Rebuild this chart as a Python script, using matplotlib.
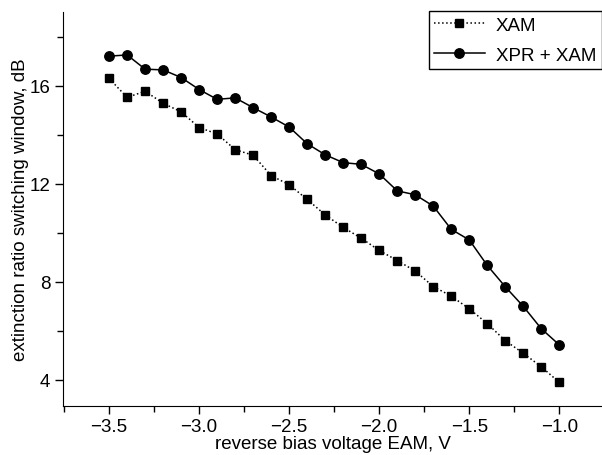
import numpy as np
import matplotlib.pyplot as plt
from matplotlib.ticker import MultipleLocator

plt.rcParams['font.family'] = ['Liberation Sans', 'DejaVu Sans']

# reverse bias voltage, V
voltage = [-3.5, -3.4, -3.3, -3.2, -3.1, -3.0, -2.9, -2.8, -2.7, -2.6, -2.5, -2.4, -2.3,
           -2.2, -2.1, -2.0, -1.9, -1.8, -1.7, -1.6, -1.5, -1.4, -1.3, -1.2, -1.1, -1.0]

xam = [16.29, 15.52, 15.77, 15.28, 14.93, 14.29, 14.03, 13.39, 13.16, 12.33, 11.96, 11.36, 10.73,
       10.22, 9.78, 9.28, 8.87, 8.44, 7.81, 7.42, 6.90, 6.30, 5.60, 5.09, 4.54, 3.90]

xpr_xam = [17.20, 17.25, 16.67, 16.64, 16.33, 15.84, 15.44, 15.50, 15.10, 14.72, 14.31, 13.63, 13.18,
           12.86, 12.79, 12.40, 11.71, 11.55, 11.09, 10.14, 9.71, 8.67, 7.80, 7.00, 6.09, 5.43]

fs = 13.5

fig = plt.figure(figsize=(6.02, 4.56), dpi=100)
ax = fig.add_axes([63 / 602, 49 / 456, 539 / 602, 394 / 456])

ax.plot(voltage, xam, color='black', linestyle=':', linewidth=1.1,
        marker='s', markersize=6, label='XAM')
ax.plot(voltage, xpr_xam, color='black', linestyle='-', linewidth=1.1,
        marker='o', markersize=6.8, label='XPR + XAM')

ax.set_xlim(-3.756, -0.763)
ax.set_ylim(2.94, 19.0)
ax.xaxis.set_major_locator(MultipleLocator(0.5))
ax.xaxis.set_minor_locator(MultipleLocator(0.25))
ax.yaxis.set_major_locator(MultipleLocator(4))
ax.yaxis.set_minor_locator(MultipleLocator(2))
ax.xaxis.set_major_formatter(plt.FuncFormatter(lambda v, p: '\u2212%.1f' % abs(v)))

for s in ['top', 'right']:
    ax.spines[s].set_visible(False)
ax.tick_params(which='major', direction='out', length=6, width=1, labelsize=fs, color='black', pad=3)
ax.tick_params(which='minor', direction='out', length=4, width=1)

ax.set_xlabel('reverse bias voltage EAM, V', fontsize=fs, labelpad=0)
ax.set_ylabel('extinction ratio switching window, dB', fontsize=fs)
ax.yaxis.set_label_coords(-0.063, 0.5)

leg = ax.legend(loc='upper right', bbox_to_anchor=(1.0, 1.003), borderaxespad=0,
                fontsize=fs, fancybox=False, edgecolor='black', framealpha=1,
                handlelength=2.7, handletextpad=0.6, labelspacing=0.7,
                borderpad=0.3)
leg.get_frame().set_linewidth(1.0)

fig.savefig('out.png', dpi=100)
